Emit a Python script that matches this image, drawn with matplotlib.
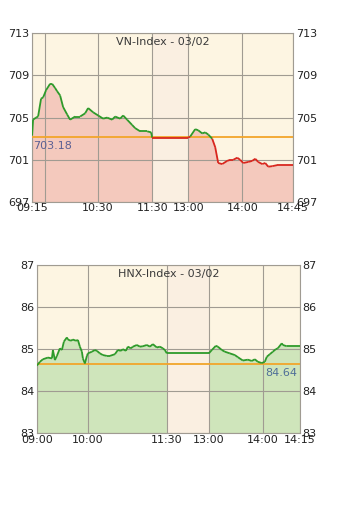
import numpy as np
import matplotlib
matplotlib.use('Agg')
import matplotlib.pyplot as plt
from matplotlib.collections import LineCollection

# VN-Index (x = chart slot, lunch break 120..156)
vn_x = [0, 1, 4, 6, 9, 11, 14, 18, 20, 23, 25, 28, 31, 35, 38, 43, 48, 53, 56, 61,
        66, 71, 75, 80, 83, 88, 91, 95, 100, 103, 108, 115, 119, 120,
        156, 158, 163, 166, 170, 173, 176, 180, 183, 186, 190, 195, 198, 201, 205,
        208, 211, 216, 220, 223, 226, 230, 233, 236, 240, 245, 255, 261]
vn_y = [703.3, 704.8, 705.0, 705.1, 706.8, 706.9, 707.6, 708.2, 708.2, 707.8, 707.5,
        707.1, 706.0, 705.3, 704.8, 705.1, 705.1, 705.4, 705.9, 705.5, 705.2,
        704.9, 705.0, 704.8, 705.1, 704.9, 705.2, 704.8, 704.3, 704.0, 703.7,
        703.7, 703.6, 703.1,
        703.1, 703.2, 703.9, 703.8, 703.5, 703.6, 703.4, 703.0, 702.2, 700.7,
        700.6, 700.9, 701.0, 701.0, 701.2, 701.0, 700.7, 700.8, 700.9, 701.1,
        700.8, 700.6, 700.7, 700.35, 700.4, 700.5, 700.5, 700.5]
vn_ref = 703.18
vn_ticks = [0, 13, 66, 120, 156, 210, 261]
vn_labels = ['09:15', '', '10:30', '11:30', '13:00', '14:00', '14:45']
vn_lunch = (120, 156)

# HNX-Index
hnx_x = [0, 3, 6, 11, 15, 16, 18, 20, 23, 25, 27, 30, 31, 34, 36, 39, 41, 43, 45,
         46, 48, 50, 51, 55, 58, 60, 63, 66, 70, 73, 78, 81, 84, 86, 89, 91, 94,
         96, 100, 103, 106, 110, 113, 116, 120, 123, 126, 128, 130, 131,
         172, 175, 179, 181, 185, 188, 193, 198, 201, 206, 211, 215, 218, 221,
         225, 228, 230, 233, 236, 239, 241, 245, 246, 250, 263]
hnx_y = [84.61, 84.70, 84.76, 84.80, 84.78, 84.98, 84.74, 84.84, 85.02, 84.98,
         85.18, 85.28, 85.23, 85.20, 85.23, 85.20, 85.22, 85.06, 84.94, 84.78,
         84.66, 84.84, 84.90, 84.94, 84.98, 84.96, 84.90, 84.86, 84.84, 84.84,
         84.88, 84.98, 84.96, 85.00, 84.96, 85.06, 85.02, 85.06, 85.10, 85.06,
         85.07, 85.10, 85.06, 85.12, 85.04, 85.06, 85.02, 84.98, 84.90, 84.90,
         84.90, 84.98, 85.08, 85.06, 84.98, 84.94, 84.90, 84.86, 84.81, 84.73,
         84.75, 84.72, 84.76, 84.70, 84.67, 84.70, 84.82, 84.88, 84.94, 85.00,
         85.02, 85.14, 85.10, 85.07, 85.07]
hnx_ref = 84.64
hnx_ticks = [0, 51, 130, 172, 226, 263]
hnx_labels = ['09:00', '10:00', '11:30', '13:00', '14:00', '14:15']
hnx_lunch = (130, 172)

BG = '#fdf5e2'
LUNCH = '#faefe1'
GREEN = '#2e9a2a'
RED = '#d8261e'
ORANGE = '#f2a52a'
GRID = '#a09b92'


def draw(ax, x, y, ref, ticks, labels, lunch, ylim, ystep, fill, title, reftext, refpos, refcol):
    x = np.array(x, float)
    y = np.array(y, float)
    ax.set_facecolor(BG)
    ax.fill_between(x, y, ylim[0], color=fill, lw=0, zorder=1)
    ax.axvspan(lunch[0], lunch[1], color=LUNCH, lw=0, zorder=2)
    ax.axhline(ref, color=ORANGE, lw=1.3, zorder=3)
    pts = np.column_stack([x, y])
    segs = np.stack([pts[:-1], pts[1:]], axis=1)
    mid = (y[:-1] + y[1:]) / 2
    cols = [GREEN if m >= ref else RED for m in mid]
    ax.add_collection(LineCollection(segs, colors=cols, linewidths=1.3, zorder=4))
    ax.set_xlim(x[0], ticks[-1])
    ax.set_ylim(*ylim)
    ax.set_xticks(ticks)
    ax.set_xticklabels(labels)
    yt = np.arange(ylim[0], ylim[1] + 0.01, ystep)
    ax.set_yticks(yt)
    ax.set_yticklabels(['%d' % v for v in yt])
    ax.grid(True, color=GRID, lw=0.8, zorder=2.5)
    ax.set_axisbelow(False)
    for s in ax.spines.values():
        s.set_color(GRID)
        s.set_linewidth(0.8)
    ax.tick_params(length=0, labelsize=8, colors='#222222', pad=2,
                   labelleft=True, labelright=True)
    ax.tick_params(axis='x', pad=1)
    ax.text(0.5, 0.975, title, transform=ax.transAxes, ha='center', va='top',
            fontsize=8, color='#3a3a3a', zorder=5)
    ax.annotate(reftext, xy=(refpos, ref), xytext=(0, -3), textcoords='offset points',
                ha='left' if refpos < 50 else 'right', va='top', fontsize=8,
                color=refcol, zorder=5)


fig = plt.figure(figsize=(3.45, 5.09), dpi=100)
ax1 = fig.add_axes([0.093, 0.603, 0.757, 0.332])
draw(ax1, vn_x, vn_y, vn_ref, vn_ticks, vn_labels, vn_lunch, (697, 713), 4,
     '#f4c9bd', 'VN-Index - 03/02', '703.18', 1, '#5b6094')
ax2 = fig.add_axes([0.107, 0.149, 0.762, 0.330])
draw(ax2, hnx_x, hnx_y, hnx_ref, hnx_ticks, hnx_labels, hnx_lunch, (83, 87), 1,
     '#cfe5bb', 'HNX-Index - 03/02', '84.64', 260, '#4f6e98')

fig.savefig('out.png', dpi=100)
